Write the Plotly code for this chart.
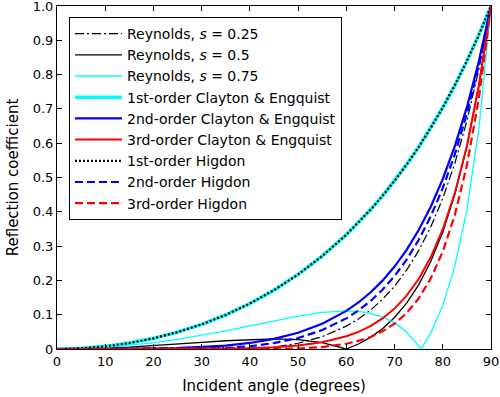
import plotly.graph_objects as go

# incident angle grid (degrees)
angle = [0, 5, 10, 15, 20, 25, 30, 35, 40, 45, 50, 55, 60, 62.5, 65, 67.5, 70,
         72.5, 75, 77.5, 80, 82.5, 85, 87.5, 90]

# Reynolds, s = 0.25 (kink at ~41.4 deg)
angle_rey25 = [0, 5, 10, 15, 20, 25, 30, 35, 40, 41.41, 45, 50, 55, 60, 62.5, 65,
               67.5, 70, 72.5, 75, 77.5, 80, 82.5, 85, 87.5, 90]
rey25 = [0, 0.0003, 0.0010, 0.0022, 0.0035, 0.0046, 0.0052, 0.0044, 0.0014, 0.0,
         0.0051, 0.0167, 0.0361, 0.0667, 0.0876, 0.1133, 0.1448, 0.1832, 0.2299,
         0.2867, 0.3556, 0.4393, 0.5411, 0.6648, 0.8157, 1.0]

# Reynolds, s = 0.5 (kink at 60 deg)
rey50 = [0, 0.0006, 0.0025, 0.0055, 0.0095, 0.0142, 0.0192, 0.0241, 0.0278, 0.0294,
         0.0272, 0.0186, 0.0, 0.0146, 0.0340, 0.0593, 0.0920, 0.1338, 0.1871,
         0.2550, 0.3411, 0.4507, 0.5904, 0.7693, 1.0]

# Reynolds, s = 0.75 (kink at ~75.5 deg)
angle_rey75 = [0, 5, 10, 15, 20, 25, 30, 35, 40, 45, 50, 55, 60, 62.5, 65, 67.5, 70,
               72.5, 75, 75.52, 77.5, 80, 82.5, 85, 87.5, 90]
rey75 = [0, 0.0011, 0.0046, 0.0102, 0.0180, 0.0279, 0.0396, 0.0529, 0.0673, 0.0819,
         0.0957, 0.1065, 0.1111, 0.1096, 0.1042, 0.0936, 0.0762, 0.0495, 0.0102,
         0.0, 0.0464, 0.1269, 0.2415, 0.4055, 0.6441, 1.0]

ce1 = [0, 0.0019, 0.0077, 0.0173, 0.0311, 0.0492, 0.0718, 0.0994, 0.1325, 0.1716,
       0.2174, 0.2710, 0.3333, 0.3682, 0.4059, 0.4465, 0.4903, 0.5376, 0.5888,
       0.6442, 0.7041, 0.7691, 0.8397, 0.9164, 1.0]
ce2 = [0, 0.0000, 0.0001, 0.0003, 0.0010, 0.0024, 0.0052, 0.0099, 0.0176, 0.0294,
       0.0473, 0.0734, 0.1111, 0.1356, 0.1647, 0.1993, 0.2404, 0.2890, 0.3467,
       0.4149, 0.4957, 0.5915, 0.7050, 0.8398, 1.0]
ce3 = [0, 0, 0, 0, 0, 0.0001, 0.0004, 0.0010, 0.0023, 0.0051, 0.0103, 0.0199, 0.0370,
       0.0499, 0.0669, 0.0890, 0.1179, 0.1554, 0.2041, 0.2673, 0.3491, 0.4549,
       0.5920, 0.7696, 1.0]
hig1 = [0, 0.0019, 0.0077, 0.0173, 0.0311, 0.0492, 0.0718, 0.0994, 0.1325, 0.1716,
        0.2174, 0.2710, 0.3333, 0.3682, 0.4059, 0.4465, 0.4903, 0.5376, 0.5888,
        0.6442, 0.7041, 0.7691, 0.8397, 0.9164, 1.0]
hig2 = [0, 0.0001, 0.0005, 0.0009, 0.0013, 0.0011, 0, 0.0028, 0.0081, 0.0173,
        0.0322, 0.0551, 0.0893, 0.1121, 0.1397, 0.1728, 0.2127, 0.2605, 0.3178,
        0.3866, 0.4689, 0.5676, 0.6861, 0.8285, 1.0]
hig3 = [0, 0, 0.0001, 0.0001, 0.0002, 0.0001, 0, 0.0002, 0.0003, 0, 0.0015, 0.0057,
        0.0153, 0.0235, 0.0352, 0.0514, 0.0740, 0.1050, 0.1475, 0.2054, 0.2840,
        0.3907, 0.5355, 0.7322, 1.0]

x_ticks = [0, 10, 20, 30, 40, 50, 60, 70, 80, 90]
y_ticks = [0, 0.1, 0.2, 0.3, 0.4, 0.5, 0.6, 0.7, 0.8, 0.9, 1.0]
y_ticktext = ["0", "0.1", "0.2", "0.3", "0.4", "0.5", "0.6", "0.7", "0.8", "0.9", "1.0"]

FONT = "DejaVu Sans"

fig = go.Figure()

def add(x, y, name, color, width, dash="solid"):
    fig.add_trace(go.Scatter(x=x, y=y, mode="lines", name=name, hoverinfo="skip",
                             line=dict(color=color, width=width, dash=dash)))

add(angle_rey25, rey25, "Reynolds, <i>s</i> = 0.25", "black", 1.2, "9px,3px,2px,3px")
add(angle, rey50, "Reynolds, <i>s</i> = 0.5", "black", 1.3)
add(angle_rey75, rey75, "Reynolds, <i>s</i> = 0.75", "#00FFFF", 1.3)
add(angle, ce1, "1st-order Clayton & Engquist", "#00FFFF", 3.5)
add(angle, ce2, "2nd-order Clayton & Engquist", "#0000FF", 2.2)
add(angle, ce3, "3rd-order Clayton & Engquist", "#FF0000", 2.0)
add(angle, hig1, "1st-order Higdon", "black", 2.2, "2px,2px")
add(angle, hig2, "2nd-order Higdon", "#0000FF", 2.2, "8px,4px")
add(angle, hig3, "3rd-order Higdon", "#FF0000", 2.2, "8px,4px")

axis_common = dict(showline=True, linecolor="black", linewidth=1, mirror="ticks",
                   ticks="inside", ticklen=5, tickcolor="black", tickwidth=1,
                   showgrid=False, zeroline=False, automargin=False,
                   ticklabeloverflow="allow",
                   tickfont=dict(family=FONT, size=13, color="black"))

fig.update_layout(
    width=500, height=397,
    margin=dict(l=57, r=9, t=6, b=48),
    paper_bgcolor="white", plot_bgcolor="white",
    xaxis=dict(range=[0, 90], tickvals=x_ticks,
               title=dict(text="Incident angle (degrees)",
                          font=dict(family=FONT, size=15, color="black"), standoff=12),
               **axis_common),
    yaxis=dict(range=[0, 1], tickvals=y_ticks, ticktext=y_ticktext,
               title=dict(text="Reflection coefficient",
                          font=dict(family=FONT, size=15, color="black"), standoff=10),
               **axis_common),
    legend=dict(x=0.0276, y=0.968, xanchor="left", yanchor="top",
                bgcolor="white", bordercolor="black", borderwidth=1,
                font=dict(family=FONT, size=14, color="black"),
                itemwidth=47, tracegroupgap=0),
    showlegend=True,
)

fig.write_html("out.html", config={"displayModeBar": False},
               post_script="document.body.style.margin='0';")
